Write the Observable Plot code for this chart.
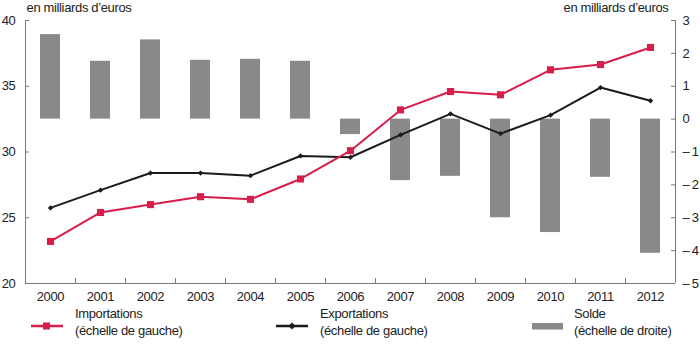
<!DOCTYPE html>
<html><head><meta charset="utf-8">
<script src="https://cdn.jsdelivr.net/npm/d3@7"></script>
<script src="https://cdn.jsdelivr.net/npm/@observablehq/plot@0.6"></script>
<style>
body{margin:0;background:#fff;}
#wrap{position:relative;width:700px;height:346px;font-family:"Liberation Sans Narrow","Arial Narrow","Liberation Sans",sans-serif;color:#222;background:#fff;overflow:hidden;letter-spacing:-0.35px}
#chart{position:absolute;left:0;top:0}
.leg{position:absolute;top:305px;font-size:13px;line-height:17px;white-space:nowrap}
.sw{position:absolute}
</style></head><body><div id="wrap"><div id="chart"></div><div id="legend"></div></div>
<script>
const years = [2000, 2001, 2002, 2003, 2004, 2005, 2006, 2007, 2008, 2009, 2010, 2011, 2012];
const importations = [23.2, 25.4, 26.0, 26.6, 26.4, 27.95, 30.1, 33.2, 34.6, 34.35, 36.25, 36.65, 37.95];
const exportations = [25.75, 27.1, 28.4, 28.4, 28.2, 29.7, 29.6, 31.3, 32.9, 31.4, 32.8, 34.9, 33.9];
const solde = [2.57, 1.76, 2.41, 1.79, 1.82, 1.76, -0.47, -1.87, -1.74, -3.0, -3.45, -1.77, -4.08];
const leftTicks = [20, 25, 30, 35, 40];
const rightTicks = [-5, -4, -3, -2, -1, 0, 1, 2, 3];
const unitLabel = "en milliards d’euros";
const seriesNames = ["Importations", "Exportations", "Solde"];
const seriesScales = ["(échelle de gauche)", "(échelle de gauche)", "(échelle de droite)"];

const RED = "#d91d4a", BLACK = "#1b1b1b", GREY = "#898989", AXIS = "#7a7a7a";
const FONT = '"Liberation Sans Narrow","Arial Narrow","Liberation Sans",sans-serif';
// right scale (solde) mapped onto left scale: right 3 <-> left 40, right -5 <-> left 20
const toLeft = r => 32.5 + r * 2.5;
const fromLeft = l => (l - 32.5) / 2.5;
const fmtRight = v => { const n = Math.round(v); return n < 0 ? "\u2013\u2009" + Math.abs(n) : String(n); };

const data = years.map((y, i) => ({year: y, imp: importations[i], exp: exportations[i], solde: solde[i]}));
const bounds = years.slice(0, -1).map(y => y + 0.5);

const plot = Plot.plot({
  width: 700, height: 308,
  marginLeft: 25, marginRight: 25, marginTop: 20, marginBottom: 25,
  x: {domain: [1999.5, 2012.5], axis: null, label: null},
  y: {domain: [20, 40], axis: null, label: null},
  style: {fontFamily: FONT, fontSize: "13px", color: "#222", background: "white", overflow: "visible", letterSpacing: "-0.35px"},
  marks: [
    Plot.rectY(data, {x1: d => d.year - 0.2, x2: d => d.year + 0.2, y1: toLeft(0), y2: d => toLeft(d.solde), fill: GREY}),
    Plot.ruleX([1999.5, 2012.5], {stroke: AXIS}),
    Plot.ruleY([20], {stroke: AXIS}),
    Plot.ruleX(bounds, {y1: 20, y2: 20, insetTop: -5, stroke: AXIS}),
    Plot.ruleY(leftTicks, {x1: 1999.5, x2: 1999.5, insetRight: -4, stroke: AXIS}),
    Plot.ruleY(rightTicks.map(toLeft), {x1: 2012.5, x2: 2012.5, insetLeft: -4, stroke: AXIS}),
    Plot.axisY({anchor: "left", ticks: leftTicks, tickSize: 0, tickPadding: 10, label: null, fill: "#222"}),
    Plot.axisY({anchor: "right", ticks: rightTicks.map(toLeft), tickSize: 0, tickPadding: 7, label: null, tickFormat: d => fmtRight(fromLeft(d)), fill: "#222"}),
    Plot.axisX({ticks: years, tickSize: 0, tickPadding: 8, label: null, tickFormat: d => String(d), fill: "#222"}),
    Plot.text([unitLabel], {text: d => d, frameAnchor: "top-left", textAnchor: "start", lineAnchor: "middle", dx: 1, dy: -13, fill: "#222"}),
    Plot.text([unitLabel], {text: d => d, frameAnchor: "top-right", textAnchor: "end", lineAnchor: "middle", dx: -7, dy: -13, fill: "#222"}),
    Plot.line(data, {x: "year", y: "exp", stroke: BLACK, strokeWidth: 2}),
    Plot.dot(data, {x: "year", y: "exp", symbol: "diamond2", r: 2.4, fill: BLACK, stroke: "none"}),
    Plot.line(data, {x: "year", y: "imp", stroke: RED, strokeWidth: 2}),
    Plot.dot(data, {x: "year", y: "imp", symbol: "square", r: 4, fill: RED, stroke: "none"})
  ]
});
document.getElementById("chart").appendChild(plot);

const legend = document.getElementById("legend");
const items = [
  {x: 30, tx: 75, sw: `<svg width="34" height="10"><line x1="1" x2="33" y1="5" y2="5" stroke="${RED}" stroke-width="2.5"/><rect x="13" y="1.5" width="7" height="7" fill="${RED}"/></svg>`},
  {x: 275, tx: 320, sw: `<svg width="34" height="10"><line x1="1" x2="33" y1="5" y2="5" stroke="${BLACK}" stroke-width="2.5"/><path d="M17,1.5L20.5,5L17,8.5L13.5,5Z" fill="${BLACK}"/></svg>`},
  {x: 531, tx: 574, sw: `<svg width="34" height="10"><rect x="1" y="2" width="31" height="6.5" fill="${GREY}"/></svg>`}
];
items.forEach((it, i) => {
  const s = document.createElement("div");
  s.className = "sw"; s.style.left = it.x + "px"; s.style.top = "317px"; s.innerHTML = it.sw;
  legend.appendChild(s);
  const t = document.createElement("div");
  t.className = "leg"; t.style.left = it.tx + "px";
  t.innerHTML = seriesNames[i] + "<br>" + seriesScales[i];
  legend.appendChild(t);
});
</script>
</body></html>
